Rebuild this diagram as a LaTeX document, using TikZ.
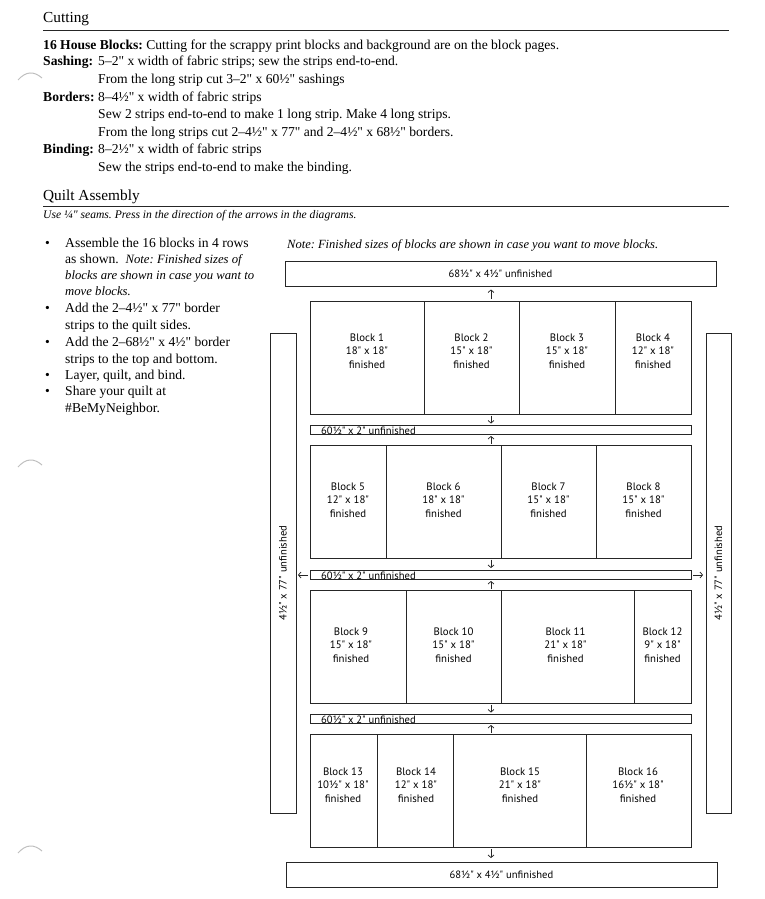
\documentclass[tikz,border=0pt]{standalone}
\usepackage{fontspec}
\usetikzlibrary{arrows.meta}
\newfontfamily\bodyfont{Liberation Serif}
\newfontfamily\dsans{PT Sans}
\frenchspacing
\tikzset{
  body/.style={anchor=base west, inner sep=0pt, font=\bodyfont\fontsize{13.6}{16}\selectfont},
  bodyit/.style={anchor=base west, inner sep=0pt, font=\bodyfont\itshape\fontsize{12.7}{16}\selectfont},
  smallit/.style={anchor=base west, inner sep=0pt, font=\bodyfont\itshape\fontsize{11.6}{14}\selectfont},
  head/.style={anchor=base west, inner sep=0pt, font=\bodyfont\fontsize{15.3}{18}\selectfont},
  rule/.style={line width=1.3pt, draw=black!85},
  box/.style={draw=black!85, line width=0.9pt},
  blk/.style={font=\dsans\fontsize{10.8}{13.3}\selectfont, align=center, inner sep=0pt},
  lab/.style={font=\dsans\fontsize{10.6}{12}\selectfont, inner sep=0pt},
  arr/.style={draw=black!85, line width=0.75pt, -{Straight Barb[length=2.5pt,width=6pt]}},
  hole/.style={draw=black!25, line width=1pt}
}
\begin{document}
\begin{tikzpicture}[x=1pt,y=-1pt]
\path[use as bounding box] (0,0) rectangle (765,899);
% hole punch shadows
\draw[hole] (18,80) .. controls (26,71) and (34,71) .. (42,78);
\draw[hole] (18,467) .. controls (26,458) and (34,458) .. (42,465);
\draw[hole] (18,853) .. controls (26,844) and (34,844) .. (42,851);
% Cutting
\node[head] (hcut) at (43,23) {Cutting};
\draw[rule] (43,30.5) -- (729,30.5);
\node[body] (c1) at (43,50) {\textbf{16 House Blocks:} Cutting for the scrappy print blocks and background are on the block pages.};
\node[body] (c2l) at (43,66) {\textbf{Sashing:}};
\node[body] (c2) at (98,66) {5–2" x width of fabric strips; sew the strips end-to-end.};
\node[body] (c3) at (98,83) {From the long strip cut 3–2" x 60½" sashings};
\node[body] (c4l) at (43,101) {\textbf{Borders:}};
\node[body] (c4) at (98,101) {8–4½" x width of fabric strips};
\node[body] (c5) at (98,118) {Sew 2 strips end-to-end to make 1 long strip. Make 4 long strips.};
\node[body] (c6) at (98,136) {From the long strips cut 2–4½" x 77" and 2–4½" x 68½" borders.};
\node[body] (c7l) at (43,153) {\textbf{Binding:}};
\node[body] (c7) at (98,153) {8–2½" x width of fabric strips};
\node[body] (c8) at (98,171) {Sew the strips end-to-end to make the binding.};
% Quilt Assembly
\node[head] (hqa) at (43,200) {Quilt Assembly};
\draw[rule] (43,206.5) -- (729,206.5);
\node[smallit] (use) at (43,218) {Use ¼" seams. Press in the direction of the arrows in the diagrams.};
\foreach \y in {247,312,346,379,395} {\node[body] at (45,\y) {•};}
\node[body] (b1) at (65,247) {Assemble the 16 blocks in 4 rows};
\node[body] (b2) at (65,263) {as shown.\ \ \textit{\fontsize{12.7}{16}\selectfont Note: Finished sizes of}};
\node[bodyit] (b3) at (65,279) {blocks are shown in case you want to};
\node[bodyit] (b4) at (65,295.5) {move blocks.};
\node[body] (b5) at (65,312) {Add the 2–4½" x 77" border};
\node[body] (b6) at (65,329) {strips to the quilt sides.};
\node[body] (b7) at (65,346) {Add the 2–68½" x 4½" border};
\node[body] (b8) at (65,363) {strips to the top and bottom.};
\node[body] (b9) at (65,379) {Layer, quilt, and bind.};
\node[body] (b10) at (65,395) {Share your quilt at};
\node[body] (b11) at (65,412) {\#BeMyNeighbor.};
\node[bodyit, font=\bodyfont\itshape\fontsize{12.5}{16}\selectfont] (note) at (287,248) {Note: Finished sizes of blocks are shown in case you want to move blocks.};
% Borders
\draw[box] (285,261) rectangle (716,286);
\node[lab] (topb) at (500.5,274) {68½" x 4½" unfinished};
\draw[box] (286,862) rectangle (717,887);
\node[lab] (botb) at (501.5,874.5) {68½" x 4½" unfinished};
\draw[box] (270,333) rectangle (296,813);
\node[lab, rotate=90] (leftb) at (283,573) {4½" x 77" unfinished};
\draw[box] (706,333) rectangle (731,813);
\node[lab, rotate=90] (rightb) at (718.5,573) {4½" x 77" unfinished};
% Row 1
\draw[box] (310,301) rectangle (424,414); \node[blk] (k1) at (367,351) {Block 1\\18" x 18"\\finished};
\draw[box] (424,301) rectangle (519,414); \node[blk] (k2) at (471.5,351) {Block 2\\15" x 18"\\finished};
\draw[box] (519,301) rectangle (615,414); \node[blk] (k3) at (567,351) {Block 3\\15" x 18"\\finished};
\draw[box] (615,301) rectangle (691,414); \node[blk] (k4) at (653,351) {Block 4\\12" x 18"\\finished};
% Sash 1
\draw[box] (310,425) rectangle (691,434.5);
\node[lab, anchor=base west] (s1) at (321,434.5) {60½" x 2" unfinished};
% Row 2
\draw[box] (310,445) rectangle (386,558); \node[blk] (k5) at (348,500) {Block 5\\12" x 18"\\finished};
\draw[box] (386,445) rectangle (501,558); \node[blk] (k6) at (443.5,500) {Block 6\\18" x 18"\\finished};
\draw[box] (501,445) rectangle (596,558); \node[blk] (k7) at (548.5,500) {Block 7\\15" x 18"\\finished};
\draw[box] (596,445) rectangle (691,558); \node[blk] (k8) at (643.5,500) {Block 8\\15" x 18"\\finished};
% Sash 2
\draw[box] (310,570) rectangle (691,579.5);
\node[lab, anchor=base west] (s2) at (321,579.5) {60½" x 2" unfinished};
% Row 3
\draw[box] (310,590) rectangle (406,703); \node[blk] (k9) at (351,645) {Block 9\\15" x 18"\\finished};
\draw[box] (406,590) rectangle (501,703); \node[blk] (k10) at (453.5,645) {Block 10\\15" x 18"\\finished};
\draw[box] (501,590) rectangle (634,703); \node[blk] (k11) at (565.5,645) {Block 11\\21" x 18"\\finished};
\draw[box] (634,590) rectangle (691,703); \node[blk] (k12) at (662.5,645) {Block 12\\9" x 18"\\finished};
% Sash 3
\draw[box] (310,714) rectangle (691,723.5);
\node[lab, anchor=base west] (s3) at (321,723.5) {60½" x 2" unfinished};
% Row 4
\draw[box] (310,734) rectangle (377,847); \node[blk] (k13) at (343,785) {Block 13\\10½" x 18"\\finished};
\draw[box] (377,734) rectangle (453,847); \node[blk] (k14) at (416,785) {Block 14\\12" x 18"\\finished};
\draw[box] (453,734) rectangle (586,847); \node[blk] (k15) at (520,785) {Block 15\\21" x 18"\\finished};
\draw[box] (586,734) rectangle (691,847); \node[blk] (k16) at (638,785) {Block 16\\16½" x 18"\\finished};
% arrows
\coordinate (a1s) at (491,298.5); \coordinate (a1e) at (491,289.5);
\coordinate (a2s) at (491,415.5); \coordinate (a2e) at (491,423.5);
\coordinate (a3s) at (491,444); \coordinate (a3e) at (491,436);
\coordinate (a4s) at (491,559.5); \coordinate (a4e) at (491,568);
\coordinate (a5s) at (491,589); \coordinate (a5e) at (491,581);
\coordinate (a6s) at (491,704.5); \coordinate (a6e) at (491,712.5);
\coordinate (a7s) at (491,733); \coordinate (a7e) at (491,725);
\coordinate (a8s) at (491,849); \coordinate (a8e) at (491,858);
\coordinate (hls) at (308,575); \coordinate (hle) at (298,575);
\coordinate (hrs) at (693,575); \coordinate (hre) at (703,575);
\foreach \a in {a1,a2,a3,a4,a5,a6,a7,a8,hl,hr} {\draw[arr] (\a s) -- (\a e);}
\end{tikzpicture}
\end{document}
